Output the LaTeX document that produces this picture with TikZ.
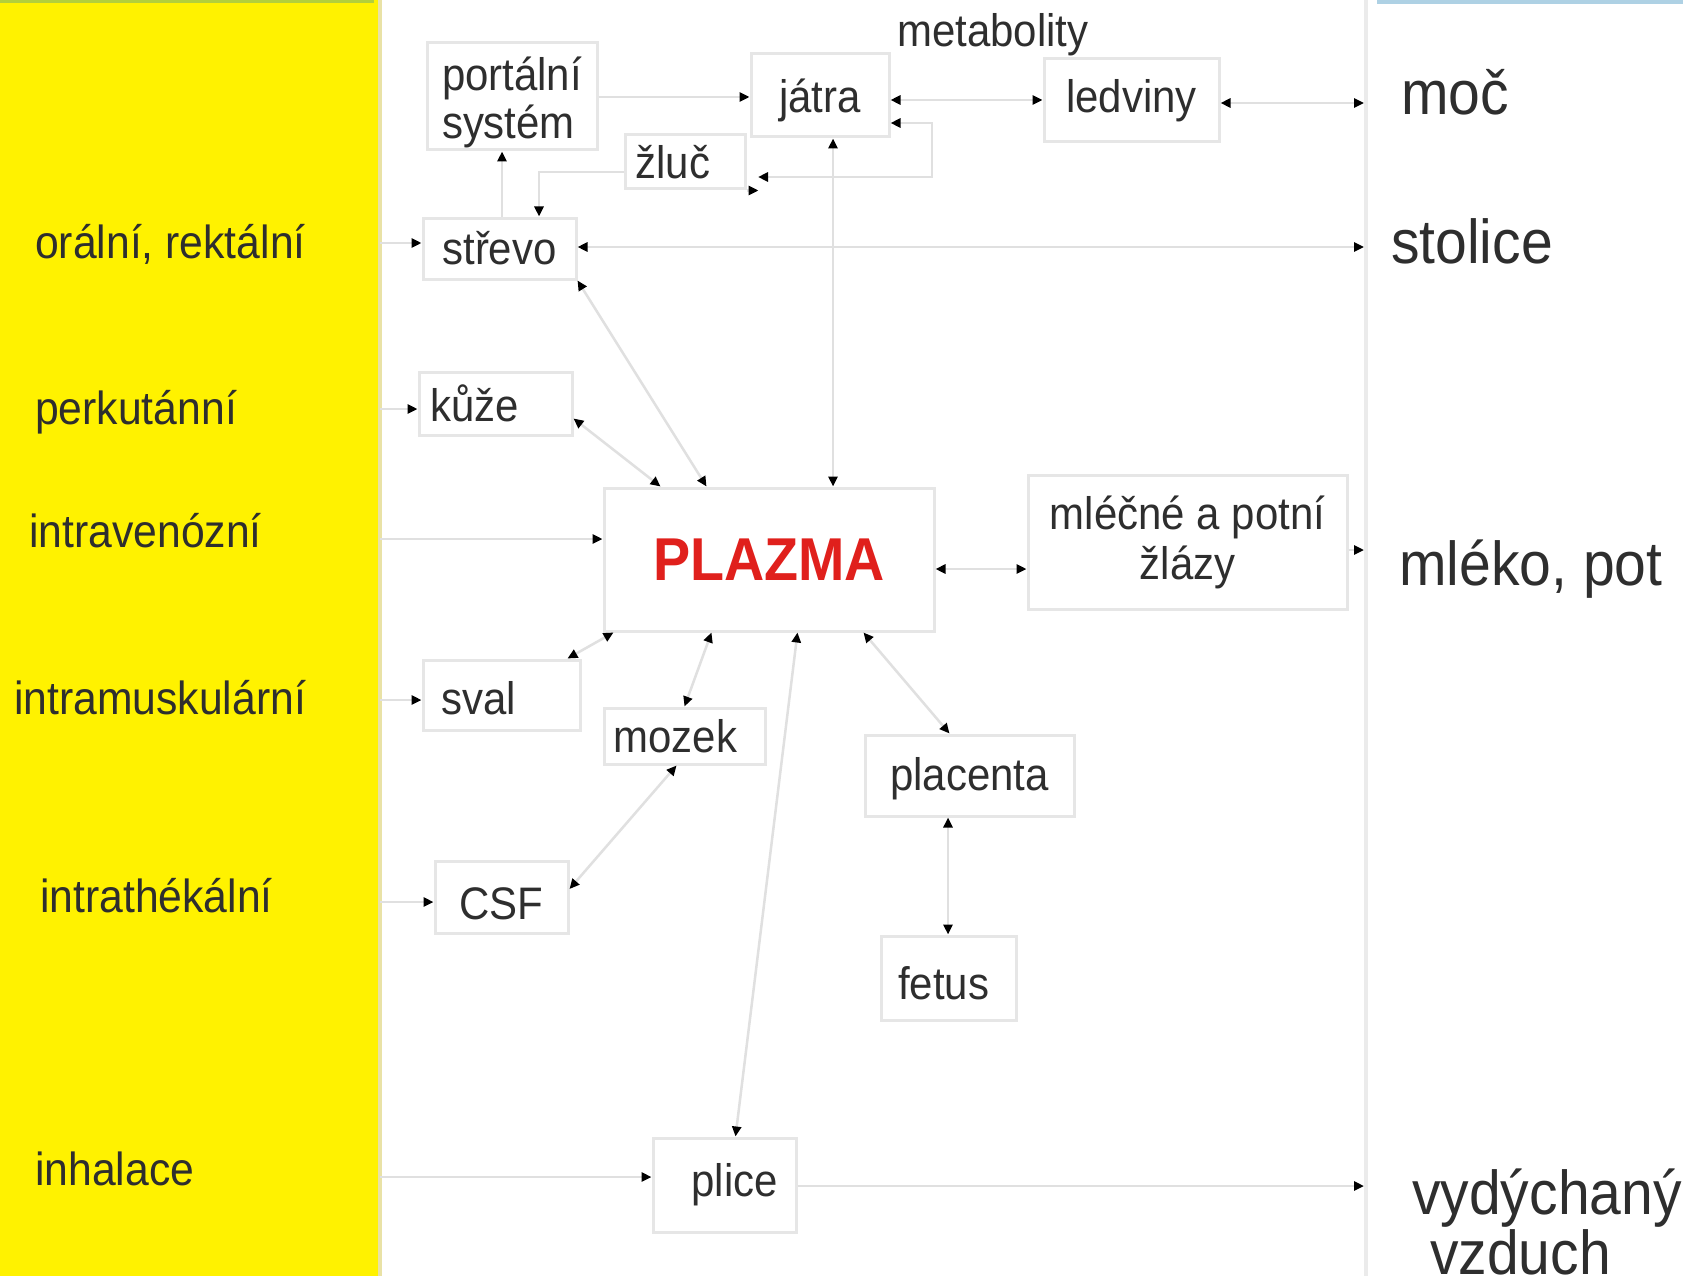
\documentclass[tikz,border=0pt]{standalone}
\usepackage{fontspec}
\setmainfont{Liberation Sans}[FakeStretch=0.92]
\usetikzlibrary{arrows.meta}
\definecolor{ylw}{HTML}{FFF200}
\definecolor{ystripe}{HTML}{E9E2A6}
\definecolor{grn}{HTML}{B2CF3C}
\definecolor{blu}{HTML}{AED1E4}
\definecolor{bord}{HTML}{E6E6E6}
\definecolor{connc}{HTML}{E0E0E0}
\definecolor{vline}{HTML}{EBEBEB}
\definecolor{txt}{HTML}{2E2E2E}
\definecolor{pred}{HTML}{E0201C}
\begin{document}
\begin{tikzpicture}[x=1pt,y=-1pt,
  box/.style={draw=bord,line width=3pt,inner sep=0pt,text=txt,font=\fontsize{45.6}{48}\selectfont},
  cn/.style={draw=connc,line width=2.5pt,>={Triangle[length=10pt,width=9pt,color=black]}},
  lab/.style={anchor=base west,inner sep=0pt,text=txt,font=\fontsize{46.4}{50}\selectfont},
  rlab/.style={anchor=base west,inner sep=0pt,text=txt,font=\fontsize{62}{64}\selectfont}]
\useasboundingbox (0,0) rectangle (1683,1276);
\fill[white] (0,0) rectangle (1683,1276);
\fill[ylw] (0,0) rectangle (378,1276);
\fill[ystripe] (378,0) rectangle (382,1276);
\fill[grn] (0,0) rectangle (374,3.5);
\fill[blu] (1377,0) rectangle (1683,4);
\draw[vline,line width=4pt] (1366,0) -- (1366,1276);

% boxes
\node[box,minimum width=170pt,minimum height=107pt,align=left,font=\fontsize{45.6}{48}\selectfont] (port) at (512,96.5) {\rule{0pt}{46pt}portální\\systém};
\node[box,minimum width=138pt,minimum height=83pt] (jatra) at (820,95.5) {\rule{0pt}{44pt}játra};
\node[box,minimum width=175pt,minimum height=83pt] (ledviny) at (1131.5,100.5) {ledviny};
\node[box,minimum width=120pt,minimum height=54pt] (zluc) at (685,162) {žluč\hspace*{24pt}};
\node[box,minimum width=153pt,minimum height=61pt] (strevo) at (499.5,248.5) {střevo};
\node[box,minimum width=153pt,minimum height=63pt] (kuze) at (495.5,403.5) {kůže\hspace*{42pt}};
\node[box,minimum width=330pt,minimum height=143pt,text=pred,font=\fontsize{60.5}{64}\bfseries] (plazma) at (769,559.5) {PLAZMA};
\node[box,minimum width=319pt,minimum height=134pt,align=center,font=\fontsize{45.6}{50}\selectfont] (mlecne) at (1187.5,542) {mléčné a potní\\žlázy};
\node[box,minimum width=157pt,minimum height=70pt] (sval) at (501.5,695) {\rule{0pt}{40pt}sval\hspace*{46pt}};
\node[box,minimum width=161pt,minimum height=56pt] (mozek) at (684.5,736) {mozek\hspace*{18pt}};
\node[box,minimum width=209pt,minimum height=81pt] (placenta) at (969.5,775.5) {\rule{0pt}{40pt}placenta};
\node[box,minimum width=133pt,minimum height=72pt] (csf) at (501.5,897) {\rule{0pt}{46pt}CSF};
\node[box,minimum width=135pt,minimum height=84pt] (fetus) at (948.5,978) {\rule{0pt}{44pt}fetus\hspace*{10pt}};
\node[box,minimum width=143pt,minimum height=94pt] (plice) at (724.5,1185) {\hspace*{20pt}plice};

% labels
\node[lab] (orl) at (35,258) {orální, rektální};
\node[lab] (pkl) at (35,424) {perkutánní};
\node[lab] (ivl) at (29,547) {intravenózní};
\node[lab] (iml) at (14,714) {intramuskulární};
\node[lab] (itl) at (40,912) {intrathékální};
\node[lab] (ihl) at (35,1185) {inhalace};
\node[anchor=base west,inner sep=0pt,text=txt,font=\fontsize{45.6}{48}\selectfont] (meta) at (897,47) {metabolity};
\node[rlab] (moc) at (1401,115) {moč};
\node[rlab] (stol) at (1391,263) {stolice};
\node[rlab] (mleko) at (1399,585) {mléko, pot};
\node[rlab] (air1) at (1412,1214) {vydýchaný};
\node[rlab] (air2) at (1430,1274) {vzduch};

% helper coordinates
\coordinate (RL) at (1364,0);
\coordinate (Y1) at (380,243);
\coordinate (Y2) at (380,409);
\coordinate (Y3) at (380,539);
\coordinate (Y4) at (380,700);
\coordinate (Y5) at (380,902);
\coordinate (Y6) at (380,1177);
\coordinate (L97) at (0,97);
\coordinate (L100) at (0,100);
\coordinate (L103) at (0,103);
\coordinate (X502) at (502,0);
\coordinate (L172) at (0,172);
\coordinate (X539) at (539,0);
\coordinate (LA) at (758,177);
\coordinate (LB) at (932,177);
\coordinate (LC) at (932,123);
\coordinate (X833) at (833,0);
\coordinate (L247) at (0,247);
\coordinate (L569) at (0,569);
\coordinate (L550) at (0,550);
\coordinate (X948) at (948,0);
\coordinate (L1186) at (0,1186);

% connectors
\draw[cn,->] (Y1) -- (Y1 -| strevo.west);
\draw[cn,->] (Y2) -- (Y2 -| kuze.west);
\draw[cn,->] (Y3) -- (Y3 -| plazma.west);
\draw[cn,->] (Y4) -- (Y4 -| sval.west);
\draw[cn,->] (Y5) -- (Y5 -| csf.west);
\draw[cn,->] (Y6) -- (Y6 -| plice.west);
\draw[cn,->] (port.east |- L97) -- (jatra.west |- L97);
\draw[cn,<->] (jatra.east |- L100) -- (ledviny.west |- L100);
\draw[cn,<->] (ledviny.east |- L103) -- (RL |- L103);
\draw[cn,->] (X502 |- strevo.north) -- (X502 |- port.south);
\draw[cn,->] (zluc.west |- L172) -- (X539 |- L172) -- (X539 |- strevo.north);
\draw[cn,<->] (LA) -- (LB) -- (LC) -- (jatra.east |- LC);
\draw[cn,->] (zluc.south east) -- ++(12,0);
\draw[cn,<->] (X833 |- jatra.south) -- (X833 |- plazma.north);
\draw[cn,<->] (strevo.east |- L247) -- (RL |- L247);
\draw[cn,<->] (strevo.south east) -- ([xshift=104pt]plazma.north west);
\draw[cn,<->] ([yshift=-15pt]kuze.east) -- ([xshift=58pt]plazma.north west);
\draw[cn,<->] (plazma.east |- L569) -- (mlecne.west |- L569);
\draw[cn,->] (mlecne.east |- L550) -- (RL |- L550);
\draw[cn,<->] ([xshift=11pt]plazma.south west) -- ([xshift=-14pt]sval.north east);
\draw[cn,<->] ([xshift=109pt]plazma.south west) -- (mozek.north);
\draw[cn,<->] ([xshift=-8pt]mozek.south) -- ([yshift=8pt]csf.east);
\draw[cn,<->] ([xshift=195pt]plazma.south west) -- ([xshift=11pt]plice.north);
\draw[cn,<->] ([xshift=261pt]plazma.south west) -- ([xshift=-20pt]placenta.north);
\draw[cn,<->] (X948 |- placenta.south) -- (X948 |- fetus.north);
\draw[cn,->] (plice.east |- L1186) -- (RL |- L1186);
\end{tikzpicture}
\end{document}
